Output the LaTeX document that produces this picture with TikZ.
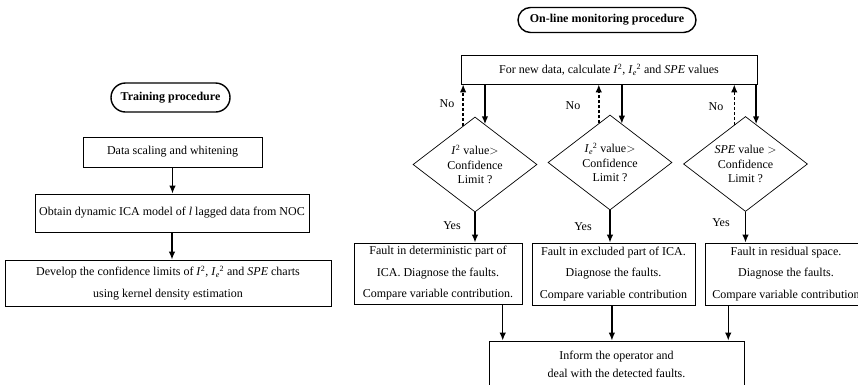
\documentclass[tikz,border=0pt]{standalone}
\usepackage{fontspec}
\setmainfont{Liberation Serif}
\usetikzlibrary{shapes.geometric,shapes.misc,arrows.meta,calc}
\newcommand{\Isq}{\textit{I}\textsuperscript{2}}
\newcommand{\Iesq}{\textit{I}\textsubscript{\textit{e}}\kern-0.3pt\textsuperscript{2}}
\begin{document}
\begin{tikzpicture}[x=1pt,y=-1pt,
  every node/.style={font=\fontsize{12}{14.5}\selectfont, inner sep=0pt},
  box/.style={draw, line width=0.7pt, rectangle, align=center},
  stad/.style={draw, line width=1.4pt, rounded rectangle, align=center, font=\fontsize{12}{14}\selectfont\bfseries},
  dia/.style={draw, line width=0.7pt, diamond, minimum width=124pt, minimum height=95pt},
  arr/.style={line width=1.5pt, -{Latex[length=8pt,width=6.5pt]}},
  darr/.style={arr, dash pattern=on 3pt off 2pt}
]
\clip (0,0) rectangle (858,384);

% Training procedure
\node[stad, minimum width=119pt, minimum height=29pt] (train) at (170.5,97.5) {Training procedure};
\node[box, minimum width=179pt, minimum height=30pt] (b1) at (172.5,152) {Data scaling and whitening};
\node[box, minimum width=274pt, minimum height=38pt] (b2) at (172,213) {Obtain dynamic ICA model of \textit{l} lagged data from NOC};
\node[box, minimum width=326pt, minimum height=46pt, font=\fontsize{12}{22}\selectfont] (b3) at (168,283)
  {Develop the confidence limits of \Isq, \Iesq{} and \textit{SPE} charts\\using kernel density estimation};
\draw[arr] (b1.south) -- (b1.south |- b2.north);
\draw[arr] (b2.south) -- (b2.south |- b3.north);

% On-line monitoring procedure
\node[stad, minimum width=178pt, minimum height=25pt] (online) at (607,20) {On-line monitoring procedure};
\node[box, minimum width=296pt, minimum height=29pt] (top) at (609,69.5) {For new data, calculate \Isq, \Iesq{} and \textit{SPE} values};

\node[dia] (d1) at (475,164.5) {};
\node[align=center] (d1t) at (d1.center) {\Isq{} value$>$\\Confidence\\Limit ?};
\node[dia] (d2) at (610,162.5) {};
\node[align=center] (d2t) at (d2.center) {\Iesq{} value$>$\\Confidence\\Limit ?};
\node[dia] (d3) at (745.5,164) {};
\node[align=center] (d3t) at (d3.center) {\textit{SPE} value $>$\\Confidence\\Limit ?};

\node[box, minimum width=168pt, minimum height=61pt, font=\fontsize{12}{21.5}\selectfont] (fA) at (438,273.5)
  {Fault in deterministic part of\\ICA. Diagnose the faults.\\Compare variable contribution.};
\node[box, minimum width=163pt, minimum height=62pt, font=\fontsize{12}{21.5}\selectfont] (fB) at (613.5,274)
  {Fault in excluded part of ICA.\\Diagnose the faults.\\Compare variable contribution};
\node[box, minimum width=162pt, minimum height=62pt, font=\fontsize{12}{21.5}\selectfont] (fC) at (786,274)
  {Fault in residual space.\\Diagnose the faults.\\Compare variable contribution};
\node[box, minimum width=255pt, minimum height=46pt, font=\fontsize{12}{18}\selectfont] (bot) at (616.5,364)
  {Inform the operator and\\deal with the detected faults.};

% arrows from top box to diamonds
\coordinate (s1) at ($(d1.north)!0.16!(d1.east)$);
\coordinate (n1) at ($(d1.north)!0.19!(d1.west)$);
\coordinate (s2) at ($(d2.north)!0.19!(d2.east)$);
\coordinate (n2) at ($(d2.north)!0.18!(d2.west)$);
\coordinate (s3) at ($(d3.north)!0.17!(d3.east)$);
\coordinate (n3) at ($(d3.north)!0.18!(d3.west)$);
\draw[arr] (s1 |- top.south) -- (s1);
\draw[arr] (s2 |- top.south) -- (s2);
\draw[arr] (s3 |- top.south) -- (s3);
\draw[darr] (n1) -- (n1 |- top.south);
\draw[darr] (n2) -- (n2 |- top.south);
\draw[darr] (n3) -- (n3 |- top.south);

\node (no1) at (447,104) {No};
\node (no2) at (573,106) {No};
\node (no3) at (716,107) {No};

% yes arrows
\draw[arr] (d1.south) -- (d1.south |- fA.north);
\draw[arr] (d2.south) -- (d2.south |- fB.north);
\draw[arr] (d3.south) -- (d3.south |- fC.north);
\node (yes1) at (452,226) {Yes};
\node (yes2) at (583,227) {Yes};
\node (yes3) at (721,223) {Yes};

% to bottom box
\coordinate (e1) at ($(bot.north west)!0.055!(bot.north east)$);
\coordinate (e2) at ($(bot.north west)!0.482!(bot.north east)$);
\coordinate (e3) at ($(bot.north west)!0.937!(bot.north east)$);
\draw[arr] (e1 |- fA.south) -- (e1);
\draw[arr] (e2 |- fB.south) -- (e2);
\draw[arr] (e3 |- fC.south) -- (e3);
\end{tikzpicture}
\end{document}
